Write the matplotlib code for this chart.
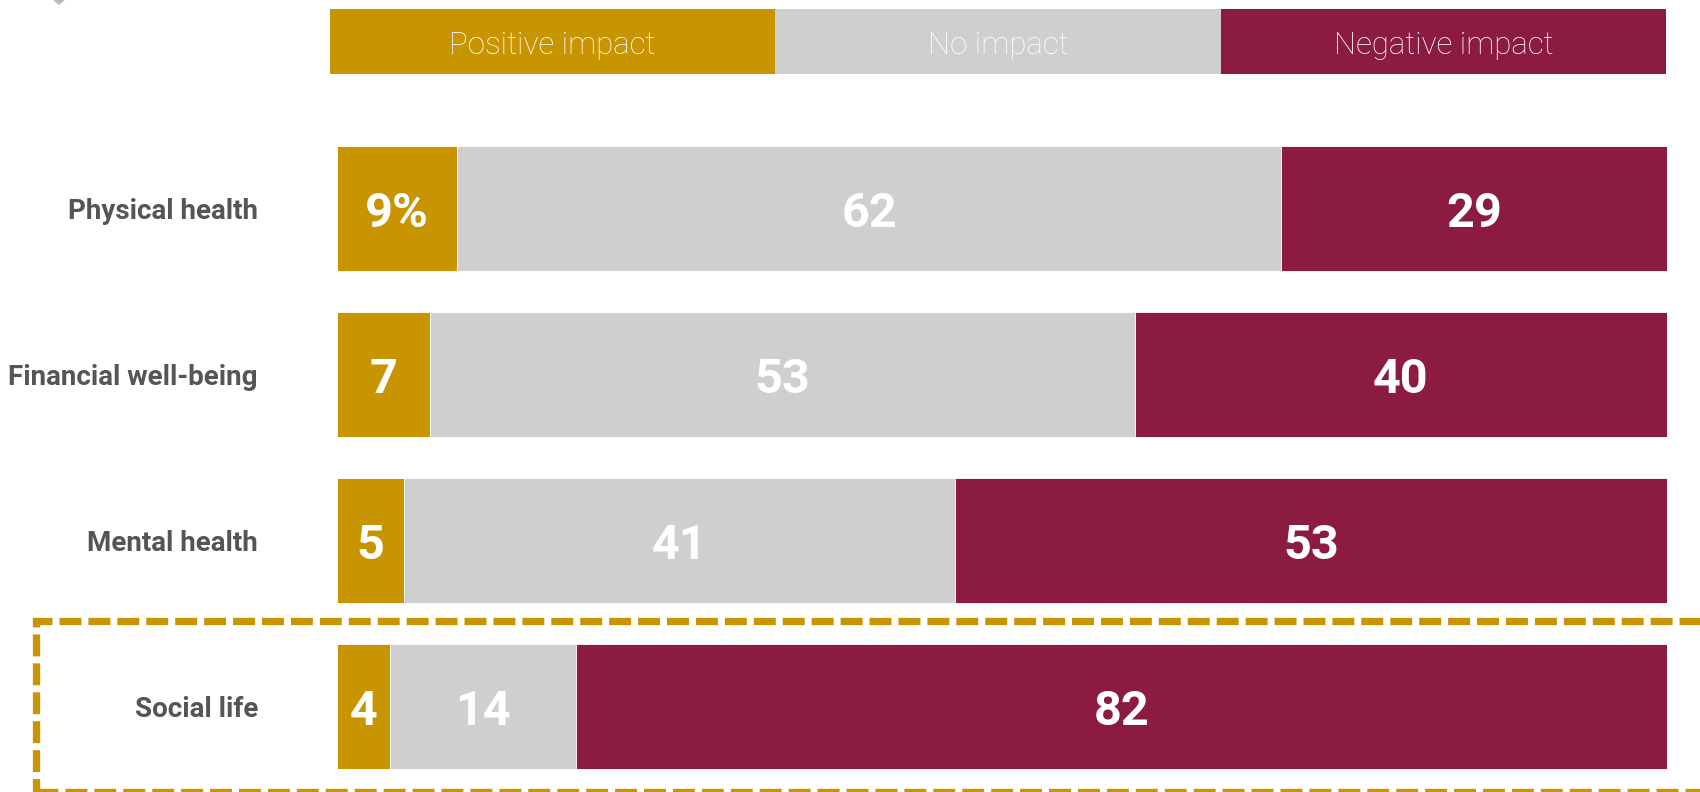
import matplotlib
matplotlib.use("Agg")
import matplotlib.pyplot as plt
from matplotlib.patches import Rectangle, Polygon

# Survey shares (%) by life area
categories = ["Physical health", "Financial well-being", "Mental health", "Social life"]
positive = [9, 7, 5, 4]
no_impact = [62, 53, 41, 14]
negative = [29, 40, 53, 82]
series_names = ["Positive impact", "No impact", "Negative impact"]

GOLD = "#C89400"
GRAY = "#D0CFD0"
MAROON = "#8B1C40"
TEXT = "#555555"

W, H = 1700, 792
fig = plt.figure(figsize=(W / 100, H / 100), dpi=100)

def px_box(x0, y0, x1, y1):
    """Figure-fraction rectangle from pixel extents (origin top-left)."""
    return [x0 / W, 1 - y1 / H, (x1 - x0) / W, (y1 - y0) / H]

# Header key strip
lax = fig.add_axes(px_box(330, 9, 1666, 74))
colors = [GOLD, GRAY, MAROON]
for i, (name, c) in enumerate(zip(series_names, colors)):
    lax.barh(0, 1, left=i, height=1, color=c, edgecolor="none")
    lax.text(i + 0.5, -0.19, name, ha="center", va="baseline", color="white",
             fontsize=22.5, family="Roboto", fontweight="light")
lax.set_xlim(0, 3)
lax.set_ylim(-0.5, 0.5)
lax.axis("off")

# Main stacked bars, each row scaled to its own total so rows span the full width
ax = fig.add_axes(px_box(337, 125.5, 1667, 789.5))
ypos = list(range(len(categories)))
totals = [a + b + c for a, b, c in zip(positive, no_impact, negative)]
bh = 125 / 166
left = [0.0] * len(categories)
for vals, c in zip([positive, no_impact, negative], colors):
    widths = [v / t * 100 for v, t in zip(vals, totals)]
    ax.barh(ypos, widths, left=left, height=bh, color=c,
            edgecolor="white", linewidth=0.6)
    for y, l, w, v in zip(ypos, left, widths, vals):
        label = f"{v}%" if (y == 0 and c == GOLD) else f"{v}"
        ax.text(l + w / 2, y + 0.111, label, ha="center", va="baseline",
                color="white", fontsize=35, family="Roboto", fontweight="bold")
    left = [a + b for a, b in zip(left, widths)]

ax.set_xlim(0, 100)
ax.set_ylim(len(categories) - 0.5, -0.5)
ax.axis("off")

for y, cat in zip(ypos, categories):
    ax.annotate(cat, xy=(0, y), xycoords="data", xytext=(-79, -10.5),
                textcoords="offset pixels", ha="right", va="baseline",
                color=TEXT, fontsize=20, family="Roboto", fontweight="bold")

# Dashed highlight around the last row
hl = Rectangle((35.5 / W, 1 - 791.5 / H), (W + 40 - 35.5) / W, (791.5 - 620.5) / H,
               transform=fig.transFigure, fill=False, edgecolor=GOLD,
               linewidth=5.26, linestyle=(0, (3.0, 0.96)), clip_on=False)
fig.patches.append(hl)

# Small marker in the top-left corner
mk = Polygon([(54 / W, 1.0), (64 / W, 1.0), (59 / W, 1 - 4 / H)],
             closed=True, transform=fig.transFigure, color="#BBBBBB")
fig.patches.append(mk)

fig.savefig("out.png", dpi=100, facecolor="white")
